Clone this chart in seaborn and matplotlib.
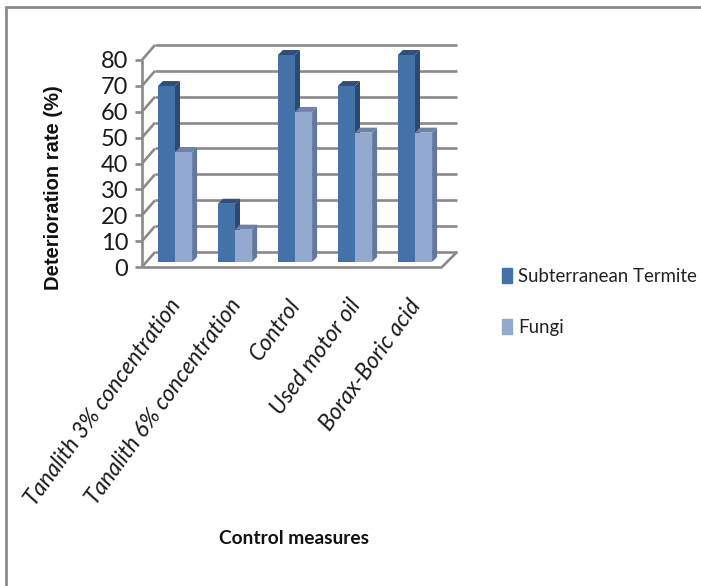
import numpy as np
import pandas as pd
import matplotlib.pyplot as plt
import seaborn as sns
from matplotlib.lines import Line2D
from matplotlib.patches import Polygon
from matplotlib.transforms import ScaledTranslation

categories = ["Tanalith 3% concentration", "Tanalith 6% concentration", "Control",
              "Used motor oil", "Borax-Boric acid"]
termite = [68, 22.5, 80, 68, 80]
fungi = [42.5, 12.5, 58, 50, 50]
series_names = ["Subterranean Termite", "Fungi"]
y_ticks = [0, 10, 20, 30, 40, 50, 60, 70, 80]

front_colors = {"Subterranean Termite": "#4471A8", "Fungi": "#93A9D0"}
side_colors = ["#2B4A72", "#64789B"]
top_colors = ["#2F4E78", "#6D82A6"]
grid_color = "#8A8A8A"

sns.set_theme(style="white")
plt.rcParams["font.family"] = ["Lato", "DejaVu Sans"]

df = pd.DataFrame({"measure": categories * 2,
                   "series": [series_names[0]] * 5 + [series_names[1]] * 5,
                   "value": termite + fungi})

W, H = 701, 586
fig = plt.figure(figsize=(W / 100, H / 100), dpi=100)
# axes = the plane the bars stand on, the walls are shifted from it in pixels
ax = fig.add_axes([145 / W, 1 - 262 / H, 300 / W, 207 / H])

sns.barplot(data=df, x="measure", y="value", hue="series", palette=front_colors,
            width=0.57, gap=0, saturation=1, ax=ax, zorder=3, legend=False,
            edgecolor="none", linewidth=0)
ax.set_xlim(-0.5, 4.5)
ax.set_ylim(0, 80)
for s in ax.spines.values():
    s.set_visible(False)
ax.patch.set_alpha(0)

px_x = 5 / 300   # one pixel in category units
px_y = 80 / 207  # one pixel in value units


def wall_line(xs, ys):
    ax.add_line(Line2D(xs, ys, color=grid_color, lw=1.9, clip_on=False, zorder=1,
                       solid_capstyle="butt"))


left, right = -0.5, 4.5
fx, fy = -3 * px_x, -5 * px_y      # front plane
bx, by = 10 * px_x, 10 * px_y      # back wall
for t in y_ticks:
    wall_line([left + bx, right + 12 * px_x], [t + by, t + by])
    wall_line([left + fx, left + bx], [t + fy, t + by])
    wall_line([left + fx - 7 * px_x, left + fx], [t + fy, t + fy])
wall_line([left + fx, left + fx], [y_ticks[0] + fy, y_ticks[-1] + fy])
wall_line([left + fx, right + fx], [fy, fy])
wall_line([right + fx, right + 12 * px_x], [fy, by])

# extrude each bar to get the 3d look
depth_x, depth_y = 5 * px_x, 5 * px_y
n = len(categories)
for i, bar in enumerate(list(ax.patches)[:2 * n]):
    x0, w, h = bar.get_x(), bar.get_width(), bar.get_height()
    k = i // n
    ax.add_patch(Polygon([(x0 + w, 0), (x0 + w + depth_x, depth_y),
                          (x0 + w + depth_x, h + depth_y), (x0 + w, h)],
                         facecolor=side_colors[k], edgecolor="none",
                         zorder=2.5 + k * 0.6, clip_on=False))
    ax.add_patch(Polygon([(x0, h), (x0 + depth_x, h + depth_y),
                          (x0 + w + depth_x, h + depth_y), (x0 + w, h)],
                         facecolor=top_colors[k], edgecolor="none",
                         zorder=2.5 + k * 0.6, clip_on=False))
    bar.set_zorder(2.6 + k * 0.6)

ax.set_yticks(y_ticks)
ax.set_yticklabels([str(t) for t in y_ticks], fontsize=17, color="#1a1a1a")
ax.tick_params(axis="y", length=0, pad=10)
shift = ScaledTranslation(-3 / 100, -5 / 100, fig.dpi_scale_trans)
for lab in ax.get_yticklabels():
    lab.set_transform(lab.get_transform() + shift)

ax.set_xticks(range(n))
ax.set_xticklabels(categories, rotation=54, ha="right", va="top", rotation_mode="anchor",
                   fontsize=16.3, style="italic", color="#1a1a1a")
ax.tick_params(axis="x", length=0, pad=24)
shift_x = ScaledTranslation(-7 / 100, 0, fig.dpi_scale_trans)
for lab in ax.get_xticklabels():
    lab.set_transform(lab.get_transform() + shift_x)
ax.set_xlabel("")
ax.set_ylabel("")

fig.text(54 / W, 1 - 188 / H, "Deterioration rate (%)", rotation=90, ha="center", va="center",
         fontsize=14.5, fontweight="bold", family=["Liberation Sans", "DejaVu Sans"], color="#111111")
fig.text(294 / W, 1 - 539 / H, "Control measures", ha="center", va="center",
         fontsize=13.8, fontweight="bold", color="#111111")

# legend
handles = [plt.Rectangle((0, 0), 1, 1, color=front_colors[s]) for s in series_names]
ax.legend(handles, series_names, loc="center left", bbox_to_anchor=(502 / W, 1 - 302 / H),
          bbox_transform=fig.transFigure, frameon=False, fontsize=13.4, handlelength=0.55,
          handleheight=0.85, handletextpad=0.3, labelspacing=1.85, labelcolor="#222222",
          borderpad=0, borderaxespad=0)

# picture border
fig.add_artist(Line2D([5.5 / W, 5.5 / W], [0, 1 - 7 / H], color="#8C8C8C", lw=2))
fig.add_artist(Line2D([5.5 / W, 1], [1 - 7 / H, 1 - 7 / H], color="#8C8C8C", lw=2))

fig.savefig("out.png", dpi=100)
